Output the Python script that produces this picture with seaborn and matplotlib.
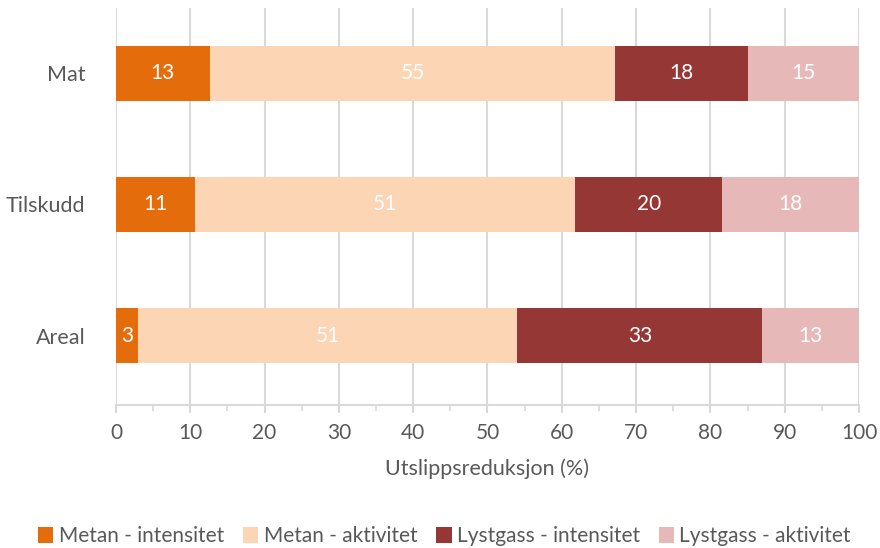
import matplotlib
matplotlib.use("Agg")
import matplotlib.pyplot as plt
from matplotlib.patches import Patch
from matplotlib.ticker import MultipleLocator
import numpy as np
import pandas as pd
import seaborn as sns

# Data: share of emission reduction (%) per measure
categories = ["Mat", "Tilskudd", "Areal"]
series_names = ["Metan - intensitet", "Metan - aktivitet",
                "Lystgass - intensitet", "Lystgass - aktivitet"]
metan_intensitet = [12.6, 10.6, 3.0]
metan_aktivitet = [54.6, 51.2, 51.0]
lystgass_intensitet = [17.9, 19.8, 33.0]
lystgass_aktivitet = [14.9, 18.4, 13.0]
x_ticks = [0, 10, 20, 30, 40, 50, 60, 70, 80, 90, 100]

colors = ["#E46C0A", "#FCD5B5", "#953735", "#E6B9B8"]

sns.set_theme(style="white")
plt.rcParams["font.family"] = ["Lato", "DejaVu Sans"]

series = [metan_intensitet, metan_aktivitet, lystgass_intensitet, lystgass_aktivitet]
df = pd.DataFrame({name: vals for name, vals in zip(series_names, series)})
df["kategori"] = categories
cum = df[series_names].cumsum(axis=1)

fig = plt.figure(figsize=(8.8, 5.48), dpi=100)
ax = fig.add_axes([0.1318, 0.261, 0.8443, 0.7245])

# Stacked bars: draw cumulative totals from the outermost layer inward
for name, col in reversed(list(zip(series_names, colors))):
    sns.barplot(x=cum[name], y=df["kategori"], orient="h", color=col,
                width=0.42, saturation=1, ax=ax, zorder=3, linewidth=0)

# Value labels centred in each segment
for i, cat in enumerate(categories):
    for name in series_names:
        v = df.loc[i, name]
        center = cum.loc[i, name] - v / 2
        ax.text(center, i, f"{v:.0f}", ha="center", va="center",
                color="white", fontsize=15, zorder=4)

ax.set_xlim(0, 100)
ax.set_ylim(2.53, -0.5)
ax.set_xticks(x_ticks)
ax.xaxis.set_minor_locator(MultipleLocator(5))
ax.grid(axis="x", color="#D9D9D9", linewidth=1.5, zorder=0)
ax.set_axisbelow(True)

for side in ["top", "right", "left"]:
    ax.spines[side].set_visible(False)
ax.spines["bottom"].set_color("#D9D9D9")
ax.spines["bottom"].set_linewidth(1.5)

ax.tick_params(axis="x", which="major", bottom=True, length=6, width=1.5,
               color="#D9D9D9", labelsize=15, labelcolor="#595959", pad=7)
ax.tick_params(axis="x", which="minor", bottom=True, length=4, width=1.2,
               color="#D9D9D9")
ax.tick_params(axis="y", left=False, labelsize=15.5, labelcolor="#595959", pad=16)

ax.set_ylabel("")
ax.set_xlabel("Utslippsreduksjon (%)", fontsize=15.5, color="#595959", labelpad=11)

handles = [Patch(facecolor=c, edgecolor="none") for c in colors]
fig.legend(handles, series_names, loc="center", bbox_to_anchor=(0.505, 0.021),
           ncol=4, frameon=False, fontsize=15, handlelength=0.75,
           handleheight=0.8, handletextpad=0.25, columnspacing=0.9,
           labelcolor="#595959")

fig.savefig("out.png", dpi=100)
